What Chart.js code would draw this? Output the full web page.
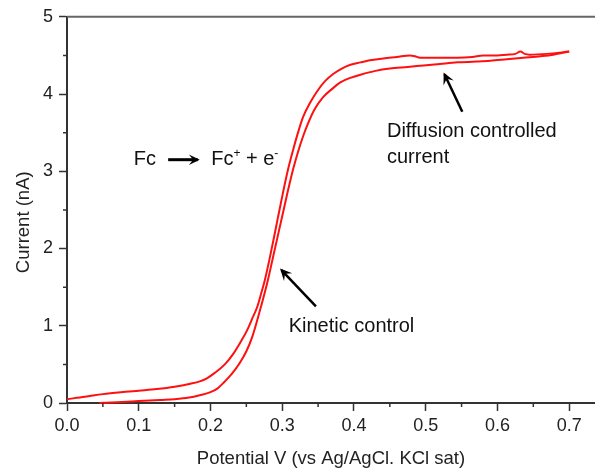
<!DOCTYPE html>
<html>
<head>
<meta charset="utf-8">
<script src="https://cdn.jsdelivr.net/npm/chart.js@4"></script>
<style>
  html, body { margin: 0; padding: 0; background: #fff; }
  #wrap { width: 595px; height: 472px; }
</style>
</head>
<body>
<div id="wrap"><canvas id="cv" width="595" height="472"></canvas></div>
<script>
// Forward scan (lower / right branch), potential in V, current in nA
const forwardV = [0.045, 0.07, 0.10, 0.13, 0.15, 0.17, 0.185, 0.20, 0.21, 0.218, 0.23, 0.241, 0.25, 0.258, 0.269,
  0.280, 0.287, 0.294, 0.301, 0.308, 0.315, 0.322, 0.329, 0.336, 0.345, 0.357, 0.37, 0.381, 0.395, 0.409,
  0.43, 0.45, 0.475, 0.497, 0.52, 0.544, 0.57, 0.59, 0.613, 0.636, 0.66, 0.678, 0.70];
const forwardI = [0.00, 0.01, 0.025, 0.04, 0.05, 0.07, 0.10, 0.14, 0.19, 0.26, 0.38, 0.52, 0.67, 0.85, 1.20,
  1.59, 1.88, 2.17, 2.46, 2.75, 3.02, 3.25, 3.45, 3.62, 3.80, 3.96, 4.07, 4.15, 4.21, 4.25,
  4.30, 4.33, 4.35, 4.37, 4.39, 4.41, 4.42, 4.43, 4.45, 4.47, 4.49, 4.51, 4.55];

// Reverse scan (upper / left branch)
const reverseV = [0.0, 0.025, 0.05, 0.075, 0.10, 0.125, 0.15, 0.172, 0.185, 0.195, 0.206, 0.22, 0.232, 0.242, 0.251,
  0.258, 0.265, 0.271, 0.276, 0.282, 0.288, 0.294, 0.301, 0.308, 0.315, 0.322, 0.329, 0.339, 0.349, 0.36,
  0.371, 0.383, 0.395, 0.409, 0.425, 0.441, 0.46, 0.478, 0.485, 0.492, 0.506, 0.525, 0.544, 0.565, 0.58,
  0.60, 0.613, 0.625, 0.632, 0.638, 0.645, 0.669, 0.70];
const reverseI = [0.05, 0.08, 0.115, 0.14, 0.16, 0.18, 0.21, 0.25, 0.28, 0.32, 0.39, 0.50, 0.64, 0.79, 0.94,
  1.09, 1.24, 1.43, 1.60, 1.85, 2.12, 2.40, 2.72, 3.02, 3.27, 3.50, 3.70, 3.89, 4.04, 4.17,
  4.26, 4.33, 4.38, 4.41, 4.44, 4.46, 4.48, 4.50, 4.49, 4.47, 4.47, 4.47, 4.47, 4.48, 4.50,
  4.50, 4.51, 4.52, 4.55, 4.52, 4.51, 4.52, 4.55];

const xTicks = [0, 0.1, 0.2, 0.3, 0.4, 0.5, 0.6, 0.7];
const yTicks = [0, 1, 2, 3, 4, 5];
const xTitle = "Potential V (vs Ag/AgCl. KCl sat)";
const yTitle = "Current (nA)";

const FONT = "'Liberation Sans', Arial, sans-serif";
const AXIS = "#333";

const toPts = (xs, ys) => xs.map((x, i) => ({ x: x, y: ys[i] }));

// minor ticks, top frame line, y title and the annotations
const extras = {
  id: "extras",
  afterDraw(chart) {
    const ctx = chart.ctx;
    const xs = chart.scales.x, ys = chart.scales.y;
    const a = chart.chartArea;
    const px = v => xs.getPixelForValue(v);
    const py = v => ys.getPixelForValue(v);

    ctx.save();
    ctx.strokeStyle = AXIS;
    ctx.lineWidth = 1.5;
    ctx.beginPath();
    for (let i = 0; i < xTicks.length; i++) {
      const m = xTicks[i] + 0.05;
      if (m > xs.max) break;
      ctx.moveTo(px(m), a.bottom);
      ctx.lineTo(px(m), a.bottom + 4);
    }
    for (let i = 0; i < yTicks.length - 1; i++) {
      const m = yTicks[i] + 0.5;
      ctx.moveTo(a.left, py(m));
      ctx.lineTo(a.left - 4, py(m));
    }
    ctx.stroke();

    // top frame
    ctx.strokeStyle = "#666";
    ctx.lineWidth = 2;
    ctx.beginPath();
    ctx.moveTo(a.left, a.top);
    ctx.lineTo(a.right, a.top);
    ctx.stroke();

    // y title
    ctx.fillStyle = "#222";
    ctx.font = "18.5px " + FONT;
    ctx.textAlign = "center";
    ctx.textBaseline = "middle";
    ctx.translate(24, py(2.34));
    ctx.rotate(-Math.PI / 2);
    ctx.fillText(yTitle, 0, 0);
    ctx.restore();

    // annotations
    ctx.save();
    ctx.fillStyle = "#111";
    ctx.strokeStyle = "#000";
    ctx.textAlign = "left";
    ctx.textBaseline = "alphabetic";
    ctx.font = "20px " + FONT;
    ctx.fillText("Fc", px(0.093), py(3.075));
    ctx.fillText("Fc", px(0.201), py(3.075));
    let w = ctx.measureText("Fc").width;
    ctx.font = "12px " + FONT;
    ctx.fillText("+", px(0.201) + w, py(3.075) - 8);
    let w2 = ctx.measureText("+").width;
    ctx.font = "20px " + FONT;
    ctx.fillText(" + e", px(0.201) + w + w2, py(3.075));
    let w3 = ctx.measureText(" + e").width;
    ctx.font = "12px " + FONT;
    ctx.fillText("-", px(0.201) + w + w2 + w3, py(3.075) - 8);

    ctx.font = "20px " + FONT;
    ctx.fillText("Diffusion controlled", px(0.446), py(3.44));
    ctx.fillText("current", px(0.446), py(3.11));
    ctx.fillText("Kinetic control", px(0.309), py(0.92));

    const arrow = (x1, y1, x2, y2, lw, head) => {
      const X1 = px(x1), Y1 = py(y1), X2 = px(x2), Y2 = py(y2);
      const ang = Math.atan2(Y2 - Y1, X2 - X1);
      ctx.lineWidth = lw;
      ctx.lineCap = "butt";
      ctx.beginPath();
      ctx.moveTo(X1, Y1);
      ctx.lineTo(X2 - Math.cos(ang) * 2, Y2 - Math.sin(ang) * 2);
      ctx.stroke();
      ctx.beginPath();
      ctx.moveTo(X2, Y2);
      ctx.lineTo(X2 - head * Math.cos(ang - 0.45), Y2 - head * Math.sin(ang - 0.45));
      ctx.lineTo(X2 - head * 0.55 * Math.cos(ang), Y2 - head * 0.55 * Math.sin(ang));
      ctx.lineTo(X2 - head * Math.cos(ang + 0.45), Y2 - head * Math.sin(ang + 0.45));
      ctx.closePath();
      ctx.fill();
    };
    ctx.fillStyle = "#000";
    arrow(0.141, 3.15, 0.185, 3.15, 3, 12);
    arrow(0.551, 3.77, 0.525, 4.28, 2.5, 13);
    arrow(0.347, 1.25, 0.297, 1.74, 2.5, 13);
    ctx.restore();
  }
};

new Chart(document.getElementById("cv"), {
  type: "scatter",
  data: {
    datasets: [
      {
        label: "forward",
        data: toPts(forwardV, forwardI),
        showLine: true,
        borderColor: "#ff1010",
        borderWidth: 2,
        pointRadius: 0,
        cubicInterpolationMode: "monotone",
        clip: 6
      },
      {
        label: "reverse",
        data: toPts(reverseV, reverseI),
        showLine: true,
        borderColor: "#ff1010",
        borderWidth: 2,
        pointRadius: 0,
        cubicInterpolationMode: "monotone",
        clip: 6
      }
    ]
  },
  options: {
    responsive: false,
    animation: false,
    events: [],
    layout: { padding: { top: 16, right: 0, bottom: 0, left: 0 } },
    plugins: { legend: { display: false }, tooltip: { enabled: false } },
    scales: {
      x: {
        type: "linear",
        min: 0,
        max: 0.736,
        afterBuildTicks: s => { s.ticks = xTicks.map(v => ({ value: v })); },
        afterFit: s => { s.height = 69; },
        ticks: {
          autoSkip: false,
          maxRotation: 0,
          padding: 4,
          color: "#222",
          font: { family: FONT, size: 18 },
          callback: v => v.toFixed(1)
        },
        grid: { drawOnChartArea: false, drawTicks: true, tickLength: 8, tickColor: AXIS, tickWidth: 1.5 },
        border: { color: AXIS, width: 2 },
        title: {
          display: true,
          text: xTitle,
          color: "#222",
          font: { family: FONT, size: 18.5 },
          padding: { top: 2, bottom: 2 }
        }
      },
      y: {
        type: "linear",
        min: 0,
        max: 5,
        afterBuildTicks: s => { s.ticks = yTicks.map(v => ({ value: v })); },
        afterFit: s => { s.width = 67; },
        ticks: {
          padding: 6,
          color: "#222",
          font: { family: FONT, size: 18 },
          callback: v => String(v)
        },
        grid: { drawOnChartArea: false, drawTicks: true, tickLength: 8, tickColor: AXIS, tickWidth: 1.5 },
        border: { color: AXIS, width: 2 }
      }
    }
  },
  plugins: [extras]
});
</script>
</body>
</html>
